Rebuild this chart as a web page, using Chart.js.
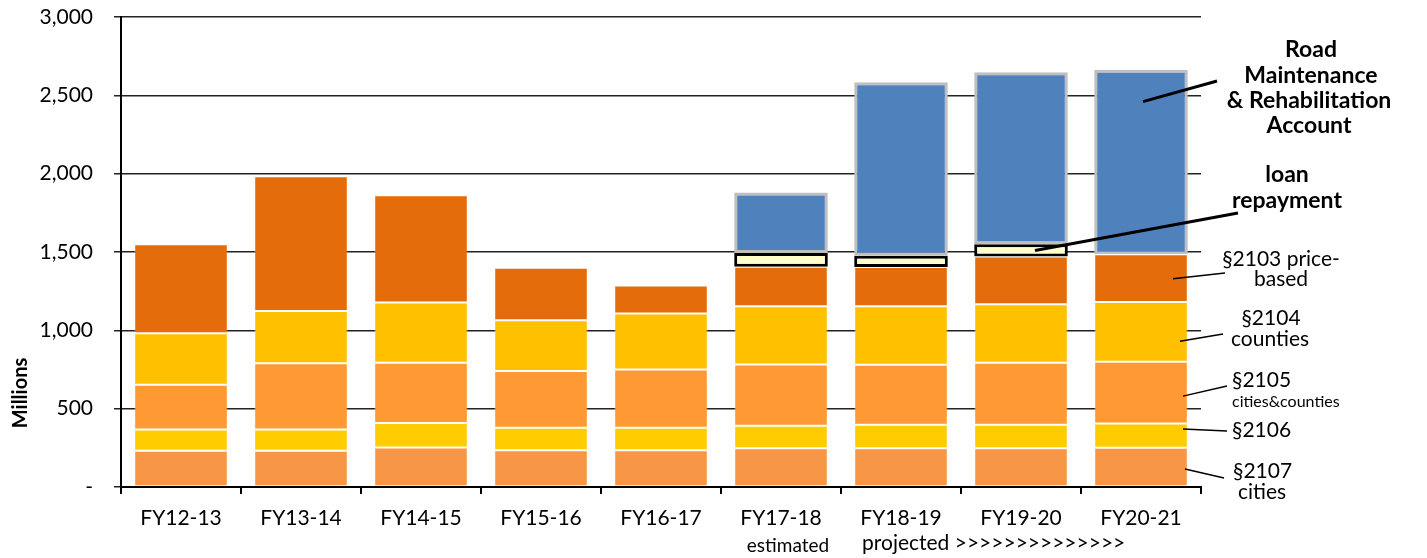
<!DOCTYPE html>
<html>
<head>
<meta charset="utf-8">
<script src="https://cdn.jsdelivr.net/npm/chart.js@4"></script>
<style>
html,body{margin:0;padding:0;background:#fff;}
#wrap{width:1427px;height:558px;}
</style>
</head>
<body>
<div id="wrap"><canvas id="chart" width="1427" height="558"></canvas></div>
<script>
// fiscal years on the x axis
const years = ["FY12-13","FY13-14","FY14-15","FY15-16","FY16-17","FY17-18","FY18-19","FY19-20","FY20-21"];

// $ millions, stacked bottom to top
const s2107 = [232, 232, 252, 235, 235, 248, 248, 248, 251];
const s2106 = [135, 135, 156, 143, 143, 143, 149, 149, 155];
const s2105 = [285, 423, 385, 363, 372, 391, 383, 396, 394];
const s2104 = [329, 333, 384, 323, 357, 372, 374, 374, 381];
const s2103 = [568, 861, 686, 336, 179, 252, 250, 305, 305];
const loan  = [null, null, null, null, null, 87, 72, 77, null];
const rmra  = [null, null, null, null, null, 387, 1108, 1099, 1177];

const yTicks = [0, 500, 1000, 1500, 2000, 2500, 3000];

const FONT = "Lato, 'Open Sans', sans-serif";

function fmtTick(v){
  if (v === 0) return "-";
  return v.toLocaleString("en-US");
}

function seg(label, data, color){
  return {label, data, backgroundColor: color, borderColor: "rgba(255,255,255,0.18)",
          borderWidth: 1, borderSkipped: false, stack: "a"};
}

// labels on the right with leader lines, plus bottom notes
const notes = {
  id: "notes",
  afterDraw(chart){
    const ctx = chart.ctx;
    const x = chart.scales.x, y = chart.scales.y;
    ctx.save();
    ctx.fillStyle = "#000";
    ctx.strokeStyle = "#000";

    function leader(idx, val, dx, tx, ty, w){
      ctx.beginPath();
      ctx.lineWidth = w;
      ctx.moveTo(x.getPixelForValue(idx) + dx, y.getPixelForValue(val));
      ctx.lineTo(tx, ty);
      ctx.stroke();
    }
    function text(t, px, py, font, align){
      ctx.font = font;
      ctx.textAlign = align || "center";
      ctx.textBaseline = "alphabetic";
      ctx.fillText(t, px, py);
    }

    const big = "bold 23px " + FONT;
    const mid = "21px " + FONT;
    const small = "16px " + FONT;

    leader(8, 2460, 2, 1217, 81, 3);
    text("Road", 1311, 57, big);
    text("Maintenance", 1311, 83, big);
    text("& Rehabilitation", 1309, 108, big);
    text("Account", 1309, 133, big);

    leader(7, 1510, 14, 1238, 213, 3);
    text("loan", 1287, 182, big);
    text("repayment", 1287, 208, big);

    leader(8, 1330, 32, 1225, 273, 1.5);
    text("§2103 price-", 1281, 266, mid);
    text("based", 1281, 286, mid);

    leader(8, 930, 39, 1223, 334, 1.5);
    text("§2104", 1271, 325, mid);
    text("counties", 1270, 346, mid);

    leader(8, 580, 42, 1227, 386, 1.5);
    text("§2105", 1232, 387, mid, "left");
    text("cities&counties", 1232, 407, small, "left");

    leader(8, 370, 42, 1227, 431, 1.5);
    text("§2106", 1232, 437, mid, "left");

    leader(8, 115, 44, 1224, 478, 1.5);
    text("§2107", 1233, 478, mid, "left");
    text("cities", 1238, 499, mid, "left");

    // bottom notes
    text("estimated", x.getPixelForValue(5) + 7, 552, "19px " + FONT);
    text("projected >>>>>>>>>>>>>>", x.getPixelForValue(6) - 39, 550, "21px " + FONT, "left");

    // y axis title
    ctx.translate(27, 393);
    ctx.rotate(-Math.PI / 2);
    text("Millions", 0, 0, "bold 20px " + FONT);
    ctx.restore();
  }
};

new Chart(document.getElementById("chart"), {
  type: "bar",
  data: {
    labels: years,
    datasets: [
      seg("§2107 cities", s2107, "#F79646"),
      seg("§2106", s2106, "#FFCC00"),
      seg("§2105 cities&counties", s2105, "#FF9933"),
      seg("§2104 counties", s2104, "#FFC000"),
      seg("§2103 price-based", s2103, "#E46C0A"),
      {label:"loan repayment", data: loan, backgroundColor:"#FFFFCC", borderColor:"#000",
       borderWidth: 3, borderSkipped: false, stack:"a"},
      {label:"Road Maintenance & Rehabilitation Account", data: rmra, backgroundColor:"#4F81BD",
       borderColor:"#BFBFBF", borderWidth: 3, borderSkipped: false, stack:"a"}
    ]
  },
  options: {
    responsive: false,
    animation: false,
    layout: {padding: {left: 0, right: 226, top: 17, bottom: 0}},
    datasets: {bar: {barPercentage: 0.78, categoryPercentage: 1}},
    plugins: {legend: {display: false}, tooltip: {enabled: false}},
    scales: {
      x: {
        stacked: true,
        grid: {drawOnChartArea: false, drawTicks: true, tickLength: 7, color: "#000", lineWidth: 2},
        border: {color: "#000", width: 2},
        ticks: {color: "#000", font: {family: FONT, size: 21}, padding: 12, maxRotation: 0},
        afterFit(s){ s.height = 71; s.paddingLeft = 0; s.paddingRight = 0; }
      },
      y: {
        stacked: true,
        min: 0, max: 3000,
        afterBuildTicks(s){ s.ticks = yTicks.map(v => ({value: v})); },
        grid: {color: "#222", lineWidth: 1.5, tickLength: 7},
        border: {color: "#000", width: 2},
        ticks: {color: "#000", font: {family: FONT, size: 21}, padding: 21, callback: v => fmtTick(v)},
        afterFit(s){ s.width = 121; s.paddingTop = 0; s.paddingBottom = 0; }
      }
    }
  },
  plugins: [notes]
});
</script>
</body>
</html>
